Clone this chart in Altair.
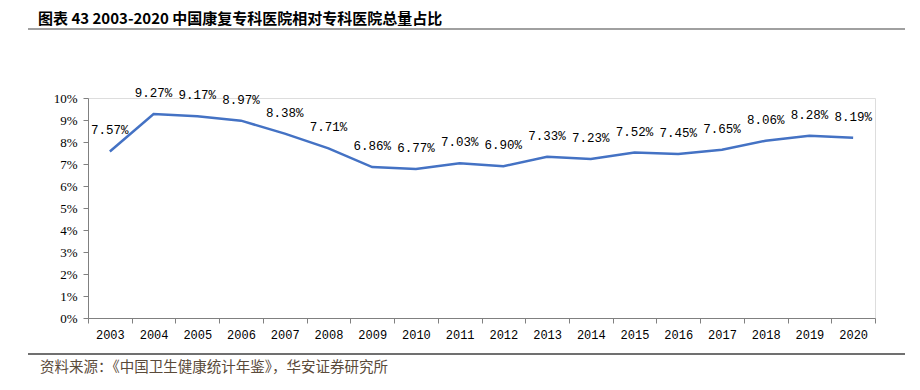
import altair as alt
import pandas as pd

years = [str(y) for y in range(2003, 2021)]
share = [7.57, 9.27, 9.17, 8.97, 8.38, 7.71, 6.86, 6.77, 7.03, 6.90,
         7.33, 7.23, 7.52, 7.45, 7.65, 8.06, 8.28, 8.19]

title_text = "图表 43 2003-2020 中国康复专科医院相对专科医院总量占比"
source_text = "资料来源：《中国卫生健康统计年鉴》，华安证券研究所"

df = pd.DataFrame({"year": years, "v": share})
df["label"] = [f"{v:.2f}%" for v in share]

W, H = 787, 220

x = alt.X("year:N", sort=years, title=None,
          scale=alt.Scale(paddingInner=0, paddingOuter=0),
          axis=alt.Axis(labelAngle=0, tickBand="extent", domainColor="#808080",
                        tickColor="#808080", tickSize=5, labelPadding=6,
                        labelFont="Liberation Mono", labelFontSize=12,
                        labelColor="#000000"))
y = alt.Y("v:Q", title=None,
          scale=alt.Scale(domain=[0, 10], nice=False),
          axis=alt.Axis(values=list(range(0, 11)), labelExpr="datum.value + '%'",
                        grid=False, domainColor="#808080", tickColor="#808080",
                        tickSize=5, labelPadding=6, labelFont="Liberation Serif",
                        labelFontSize=13, labelColor="#000000"))

base = alt.Chart(df)
line = base.mark_line(color="#4472C4", strokeWidth=2.5).encode(x=x, y=y)
labels = base.mark_text(font="Liberation Mono", fontSize=12.5, dy=-21,
                        color="#000000").encode(x=x, y=y, text="label:N")

deco = pd.DataFrame({"k": [0]})
title_line = alt.Chart(deco).mark_rule(color="#808080", strokeWidth=1.5).encode(
    x=alt.value(-60), x2=alt.value(830), y=alt.value(-69))
foot_line = alt.Chart(deco).mark_rule(color="#404040", strokeWidth=1.5).encode(
    x=alt.value(-60), x2=alt.value(830), y=alt.value(256))
title = alt.Chart(deco).mark_text(align="left", baseline="middle",
                                  font="Noto Sans CJK SC", fontWeight="bold",
                                  fontSize=15, color="#000000").encode(
    x=alt.value(-50), y=alt.value(-79), text=alt.value(title_text))
source = alt.Chart(deco).mark_text(align="left", baseline="middle",
                                   font="Noto Sans CJK SC", fontSize=14.5,
                                   color="#5a4a3a").encode(
    x=alt.value(-48), y=alt.value(270), text=alt.value(source_text))

chart = alt.layer(line, labels, title_line, foot_line, title, source).properties(
    width=W, height=H,
    autosize=alt.AutoSizeParams(type="none"),
    padding={"left": 80, "top": 90, "right": 30, "bottom": 60},
).configure_view(stroke=None).configure(background="white")

chart.save("out.html", embed_options={"renderer": "svg", "actions": False})
